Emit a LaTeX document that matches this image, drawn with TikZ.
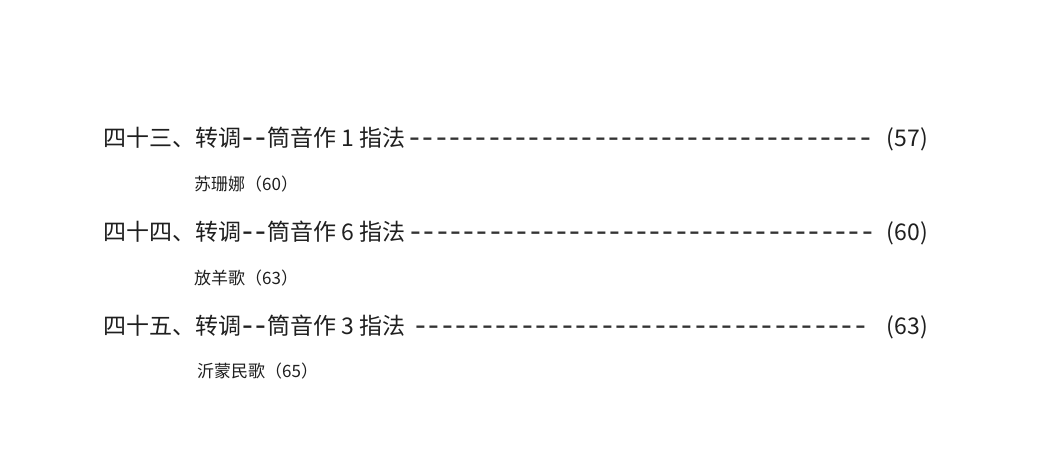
\documentclass[tikz,border=0pt]{standalone}
\usepackage{fontspec}
\setmainfont{Noto Sans CJK SC}
\newcommand{\hy}{\makebox[13pt]{\raisebox{-2.6pt}{\scalebox{1.35}[1.45]{-}}}}
\newcommand{\dashrun}[1]{\makebox[#1]{\xleaders\hbox{\hy}\hfill}}
\tikzset{
  chapter/.style={anchor=base west, inner sep=0pt, font=\fontsize{23}{27}\selectfont, text=black!88},
  leader/.style={anchor=base west, inner sep=0pt, font=\fontsize{23}{27}\selectfont, text=black!80},
  pagenum/.style={anchor=base east, inner sep=0pt, font=\fontsize{23}{27}\selectfont, text=black!88},
  song/.style={anchor=base west, inner sep=0pt, font=\fontsize{17}{20}\selectfont, text=black!88}
}
\begin{document}
\begin{tikzpicture}[x=1pt,y=-1pt]
				\useasboundingbox (0,0) rectangle (1042,474);
				\node[chapter] (t1) at (103,146) {四十三、转调\hy\hy 筒音作 1 指法};
				\node[leader] (d1) at (408,146) {\dashrun{464pt}};
				\node[pagenum] (p1) at (928,146) {(57)};
				\node[song] (s1) at (194,190) {苏珊娜（60）};
				\node[chapter] (t2) at (103,240) {四十四、转调\hy\hy 筒音作 6 指法};
				\node[leader] (d2) at (409,240) {\dashrun{465pt}};
				\node[pagenum] (p2) at (928,240) {(60)};
				\node[song] (s2) at (194,284) {放羊歌（63）};
				\node[chapter] (t3) at (103,334) {四十五、转调\hy\hy 筒音作 3 指法};
				\node[leader] (d3) at (414,334) {\dashrun{453pt}};
				\node[pagenum] (p3) at (928,334) {(63)};
				\node[song] (s3) at (197,377) {沂蒙民歌（65）};
			\end{tikzpicture}
\end{document}
